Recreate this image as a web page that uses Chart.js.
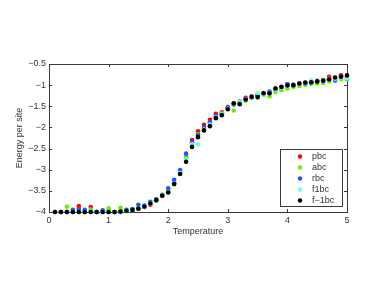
<!DOCTYPE html>
<html>
<head>
<meta charset="utf-8">
<script src="https://cdn.jsdelivr.net/npm/chart.js@4"></script>
<style>
  html, body { margin: 0; padding: 0; background: #ffffff; }
  #wrap { width: 382px; height: 287px; }
</style>
</head>
<body>
<div id="wrap"><canvas id="energyChart"></canvas></div>
<script>
/* ===========================================
   DATA
=========================================== */

const temps = [
    0.1, 0.2, 0.3, 0.4, 0.5, 0.6, 0.7, 0.8, 0.9, 1.0,
    1.1, 1.2, 1.3, 1.4, 1.5, 1.6, 1.7, 1.8, 1.9, 2.0,
    2.1, 2.2, 2.3, 2.4, 2.5, 2.6, 2.7, 2.8, 2.9, 3.0,
    3.1, 3.2, 3.3, 3.4, 3.5, 3.6, 3.7, 3.8, 3.9, 4.0,
    4.1, 4.2, 4.3, 4.4, 4.5, 4.6, 4.7, 4.8, 4.9, 5.0
];

const pbc = [
    -4.00, -4.00, -4.00, -4.00, -3.86, -4.00, -3.88, -4.00, -4.00, -4.00,
    -4.00, -3.99, -3.97, -3.96, -3.93, -3.88, -3.83, -3.72, -3.62, -3.52,
    -3.32, -3.08, -2.72, -2.30, -2.09, -1.94, -1.82, -1.68, -1.64, -1.52,
    -1.44, -1.42, -1.30, -1.26, -1.25, -1.20, -1.17, -1.08, -1.05, -0.98,
    -0.99, -0.96, -0.95, -0.92, -0.90, -0.88, -0.80, -0.84, -0.77, -0.80
];

const abc = [
    -4.00, -4.00, -3.875, -4.00, -3.99, -4.00, -3.94, -4.00, -4.00, -3.91,
    -4.00, -3.90, -3.98, -3.95, -3.92, -3.87, -3.81, -3.73, -3.59, -3.50,
    -3.30, -3.06, -2.68, -2.38, -2.16, -2.02, -1.89, -1.75, -1.66, -1.55,
    -1.60, -1.44, -1.37, -1.30, -1.30, -1.23, -1.26, -1.16, -1.12, -1.08,
    -1.04, -1.02, -0.99, -0.97, -0.96, -0.95, -0.91, -0.88, -0.86, -0.86
];

const rbc = [
    -4.00, -4.00, -4.00, -3.95, -3.93, -3.95, -4.00, -4.00, -3.96, -4.00,
    -4.00, -4.00, -3.95, -3.93, -3.83, -3.85, -3.76, -3.70, -3.60, -3.44,
    -3.24, -3.01, -2.62, -2.35, -2.18, -1.99, -1.88, -1.72, -1.67, -1.54,
    -1.46, -1.39, -1.32, -1.27, -1.24, -1.20, -1.15, -1.09, -1.06, -0.98,
    -1.00, -0.97, -0.96, -0.93, -0.92, -0.90, -0.86, -0.89, -0.80, -0.84
];

const f1bc = [
    -4.00, -4.00, -4.00, -4.00, -4.00, -4.00, -4.00, -4.00, -4.00, -4.00,
    -4.00, -4.00, -3.97, -3.95, -3.91, -3.87, -3.80, -3.72, -3.60, -3.53,
    -3.33, -3.08, -2.76, -2.40, -2.40, -2.05, -1.93, -1.76, -1.68, -1.56,
    -1.44, -1.40, -1.33, -1.27, -1.19, -1.22, -1.18, -1.10, -1.06, -1.02,
    -0.99, -0.97, -0.95, -0.89, -0.90, -0.88, -0.85, -0.85, -0.82, -0.84
];

const fm1bc = [
    -4.00, -4.00, -4.00, -4.00, -4.00, -4.00, -4.00, -4.00, -4.00, -4.00,
    -4.00, -3.99, -3.97, -3.95, -3.92, -3.87, -3.80, -3.72, -3.61, -3.54,
    -3.34, -3.10, -2.81, -2.46, -2.23, -2.07, -1.97, -1.78, -1.71, -1.57,
    -1.43, -1.45, -1.34, -1.28, -1.28, -1.19, -1.19, -1.08, -1.04, -1.01,
    -1.00, -0.96, -0.94, -0.93, -0.91, -0.89, -0.86, -0.82, -0.80, -0.77
];

const seriesNames = ["pbc", "abc", "rbc", "f1bc", "f\u22121bc"];
const seriesColors = ["#ff0000", "#66ee00", "#2255ff", "#77ffdd", "#000000"];
const seriesValues = [pbc, abc, rbc, f1bc, fm1bc];

const xTicks = [0, 1, 2, 3, 4, 5];
const yTicks = [-4, -3.5, -3, -2.5, -2, -1.5, -1, -0.5];

/* ===========================================
   HELPERS
=========================================== */

const FONT = "'Liberation Sans', Arial, Helvetica, sans-serif";
const AXIS_COLOR = "#3a3a3a";

function toPoints(values) {
    return temps.map(function (t, i) {
        return { x: t, y: values[i] };
    });
}

function minusSign(v) {
    return String(v).replace("-", "\u2212");
}

// MATLAB style box with inward ticks
const boxPlugin = {
    id: "boxPlugin",
    beforeDatasetsDraw(chart) {
        const ctx = chart.ctx;
        const a = chart.chartArea;
        const xs = chart.scales.x;
        const ys = chart.scales.y;
        ctx.save();
        ctx.strokeStyle = AXIS_COLOR;
        ctx.lineWidth = 1;
        ctx.strokeRect(a.left + 0.5, a.top + 0.5, a.right - a.left, a.bottom - a.top);
        ctx.beginPath();
        xTicks.forEach(function (v) {
            const px = Math.round(xs.getPixelForValue(v)) + 0.5;
            ctx.moveTo(px, a.bottom);
            ctx.lineTo(px, a.bottom - 3);
            ctx.moveTo(px, a.top);
            ctx.lineTo(px, a.top + 3);
        });
        yTicks.forEach(function (v) {
            const py = Math.round(ys.getPixelForValue(v)) + 0.5;
            ctx.moveTo(a.left, py);
            ctx.lineTo(a.left + 3, py);
            ctx.moveTo(a.right, py);
            ctx.lineTo(a.right - 3, py);
        });
        ctx.stroke();
        ctx.restore();
    }
};

// legend box in the lower right corner of the axes
const boxLegend = {
    id: "boxLegend",
    afterDraw(chart) {
        const ctx = chart.ctx;
        const a = chart.chartArea;
        const w = 62;
        const h = 57;
        const left = a.right - 5 - w;
        const top = a.bottom - 6 - h;
        ctx.save();
        ctx.fillStyle = "#ffffff";
        ctx.fillRect(left, top, w, h);
        ctx.strokeStyle = AXIS_COLOR;
        ctx.lineWidth = 1;
        ctx.strokeRect(left + 0.5, top + 0.5, w, h);
        ctx.font = "9px " + FONT;
        ctx.textBaseline = "middle";
        chart.data.datasets.forEach(function (ds, i) {
            const y = top + 7.5 + i * 11;
            ctx.fillStyle = ds.backgroundColor;
            ctx.beginPath();
            ctx.arc(left + 20, y, 2.2, 0, Math.PI * 2);
            ctx.fill();
            ctx.fillStyle = "#333333";
            ctx.fillText(ds.label, left + 32, y + 0.5);
        });
        ctx.restore();
    }
};

/* ===========================================
   CHART
=========================================== */

const energyChart = new Chart(

    document.getElementById("energyChart"),

    {

        type: "scatter",

        data: {

            datasets: seriesValues.map(function (vals, i) {
                return {
                    label: seriesNames[i],
                    data: toPoints(vals),
                    backgroundColor: seriesColors[i],
                    borderColor: seriesColors[i],
                    borderWidth: 0,
                    pointRadius: 2.3,
                    pointHoverRadius: 2.3,
                    clip: false,
                    order: seriesValues.length - i
                };
            })

        },

        options: {

            responsive: true,

            maintainAspectRatio: false,

            animation: false,

            layout: {
                padding: { left: 10, top: 64, right: 35, bottom: 46 }
            },

            plugins: {
                legend: { display: false },
                tooltip: { enabled: false }
            },

            scales: {

                x: {
                    type: "linear",
                    min: 0,
                    max: 5,
                    afterFit: function (scale) { scale.height = 29; },
                    afterBuildTicks: function (scale) {
                        scale.ticks = xTicks.map(function (v) { return { value: v }; });
                    },
                    grid: { display: false, drawTicks: false },
                    border: { display: false },
                    ticks: {
                        padding: 3,
                        color: "#333333",
                        font: { family: FONT, size: 9 },
                        callback: minusSign
                    },
                    title: {
                        display: true,
                        text: "Temperature",
                        color: "#333333",
                        font: { family: FONT, size: 9 },
                        padding: { top: 2, bottom: 4 }
                    }
                },

                y: {
                    type: "linear",
                    min: -4,
                    max: -0.5,
                    afterFit: function (scale) { scale.width = 39; },
                    afterBuildTicks: function (scale) {
                        scale.ticks = yTicks.map(function (v) { return { value: v }; });
                    },
                    grid: { display: false, drawTicks: false },
                    border: { display: false },
                    ticks: {
                        padding: 3,
                        color: "#333333",
                        font: { family: FONT, size: 9 },
                        callback: minusSign
                    },
                    title: {
                        display: true,
                        text: "Energy per site",
                        color: "#333333",
                        font: { family: FONT, size: 9 },
                        padding: { top: 4, bottom: 2 }
                    }
                }

            }

        },

        plugins: [boxPlugin, boxLegend]

    }

);
</script>
</body>
</html>
